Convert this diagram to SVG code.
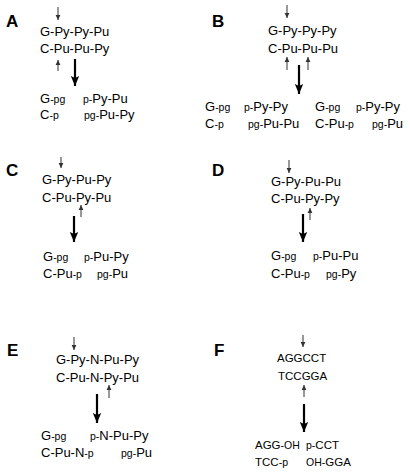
<svg xmlns="http://www.w3.org/2000/svg" width="410" height="476" viewBox="0 0 410 476">
<style>
text{font-family:"Liberation Sans",Arial,sans-serif;fill:#000}
.t{font-size:13px}
.f{font-size:11.5px}
.s{font-size:10.5px}
.lab{font-size:17px;font-weight:bold}
.thin{stroke:#333;stroke-width:1;fill:none}
.big{stroke:#000;stroke-width:2.2;fill:none}
</style>
<defs>
<marker id="hs" markerUnits="userSpaceOnUse" markerWidth="6" markerHeight="6" refX="5" refY="3" orient="auto">
<path d="M0,0.6 L5,3 L0,5.4 Z" fill="#333"/>
</marker>
<marker id="hb" markerUnits="userSpaceOnUse" markerWidth="11" markerHeight="10" refX="10" refY="5" orient="auto">
<path d="M0,0.8 L10,5 L0,9.2 L2,5 Z" fill="#000"/>
</marker>
</defs>
<rect width="410" height="476" fill="#fff"/>

<g id="panelA">
<text class="lab" x="6" y="27">A</text>
<text class="t" x="40" y="36">G-Py-Py-Pu</text>
<text class="t" x="40" y="53">C-Pu-Pu-Py</text>
<text class="t" x="40" y="103">G<tspan class="s">-pg</tspan></text>
<text class="t" x="83" y="103"><tspan class="s">p-</tspan>Py-Pu</text>
<text class="t" x="40" y="119">C<tspan class="s">-p</tspan></text>
<text class="t" x="84" y="119"><tspan class="s">pg-</tspan>Pu-Py</text>
</g>

<g id="panelB">
<text class="lab" x="212" y="27">B</text>
<text class="t" x="268" y="35">G-Py-Py-Py</text>
<text class="t" x="268" y="53">C-Pu-Pu-Pu</text>
<text class="t" x="205" y="111">G<tspan class="s">-pg</tspan></text>
<text class="t" x="244" y="111"><tspan class="s">p-</tspan>Py-Py</text>
<text class="t" x="315" y="111">G<tspan class="s">-pg</tspan></text>
<text class="t" x="356" y="111"><tspan class="s">p-</tspan>Py-Py</text>
<text class="t" x="205" y="128">C<tspan class="s">-p</tspan></text>
<text class="t" x="248" y="128"><tspan class="s">pg-</tspan>Pu-Pu</text>
<text class="t" x="315" y="128">C-Pu<tspan class="s">-p</tspan></text>
<text class="t" x="372" y="128"><tspan class="s">pg-</tspan>Pu</text>
</g>

<g id="panelC">
<text class="lab" x="6" y="176">C</text>
<text class="t" x="42" y="184">G-Py-Pu-Py</text>
<text class="t" x="42" y="202">C-Pu-Py-Pu</text>
<text class="t" x="43" y="261">G<tspan class="s">-pg</tspan></text>
<text class="t" x="84" y="261"><tspan class="s">p-</tspan>Pu-Py</text>
<text class="t" x="43" y="278">C-Pu<tspan class="s">-p</tspan></text>
<text class="t" x="97" y="278"><tspan class="s">pg-</tspan>Pu</text>
</g>

<g id="panelD">
<text class="lab" x="212" y="176">D</text>
<text class="t" x="271" y="186">G-Py-Pu-Pu</text>
<text class="t" x="271" y="203">C-Pu-Py-Py</text>
<text class="t" x="271" y="260">G<tspan class="s">-pg</tspan></text>
<text class="t" x="313" y="260"><tspan class="s">p-</tspan>Pu-Pu</text>
<text class="t" x="271" y="278">C-Pu<tspan class="s">-p</tspan></text>
<text class="t" x="326" y="278"><tspan class="s">pg-</tspan>Py</text>
</g>

<g id="panelE">
<text class="lab" x="7" y="356">E</text>
<text class="t" x="56" y="364">G-Py-N-Pu-Py</text>
<text class="t" x="56" y="382">C-Pu-N-Py-Pu</text>
<text class="t" x="41" y="440">G<tspan class="s">-pg</tspan></text>
<text class="t" x="90" y="440"><tspan class="s">p-</tspan>N-Pu-Py</text>
<text class="t" x="41" y="457">C-Pu-N<tspan class="s">-p</tspan></text>
<text class="t" x="121" y="457"><tspan class="s">pg-</tspan>Pu</text>
</g>

<g id="panelF">
<text class="lab" x="214" y="356">F</text>
<text class="f" x="277" y="362">AGGCCT</text>
<text class="f" x="278" y="380">TCCGGA</text>
<text class="f" x="255" y="449">AGG<tspan class="s">-OH</tspan></text>
<text class="f" x="306" y="449"><tspan class="s">p-</tspan>CCT</text>
<text class="f" x="255" y="466">TCC<tspan class="s">-p</tspan></text>
<text class="f" x="306" y="466"><tspan class="s">OH-</tspan>GGA</text>
</g>

<g id="connectors">
<path class="thin" d="M58,7 V20" marker-end="url(#hs)"/>
<path class="thin" d="M58,71 V60" marker-end="url(#hs)"/>
<path class="big" d="M75,59 V86" marker-end="url(#hb)"/>

<path class="thin" d="M287,5 V18" marker-end="url(#hs)"/>
<path class="thin" d="M287,70 V57" marker-end="url(#hs)"/>
<path class="thin" d="M308,70 V57" marker-end="url(#hs)"/>
<path class="big" d="M299,65 V94" marker-end="url(#hb)"/>

<path class="thin" d="M61,157 V168" marker-end="url(#hs)"/>
<path class="thin" d="M81,217 V205" marker-end="url(#hs)"/>
<path class="big" d="M74,216 V242" marker-end="url(#hb)"/>

<path class="thin" d="M289,160 V173" marker-end="url(#hs)"/>
<path class="thin" d="M310,220 V208" marker-end="url(#hs)"/>
<path class="big" d="M303,214 V242" marker-end="url(#hb)"/>

<path class="thin" d="M74,337 V350" marker-end="url(#hs)"/>
<path class="thin" d="M109,398 V385" marker-end="url(#hs)"/>
<path class="big" d="M97,394 V423" marker-end="url(#hb)"/>

<path class="thin" d="M303,335 V347" marker-end="url(#hs)"/>
<path class="thin" d="M304,397 V385" marker-end="url(#hs)"/>
<path class="big" d="M304,404 V432" marker-end="url(#hb)"/>
</g>
</svg>
